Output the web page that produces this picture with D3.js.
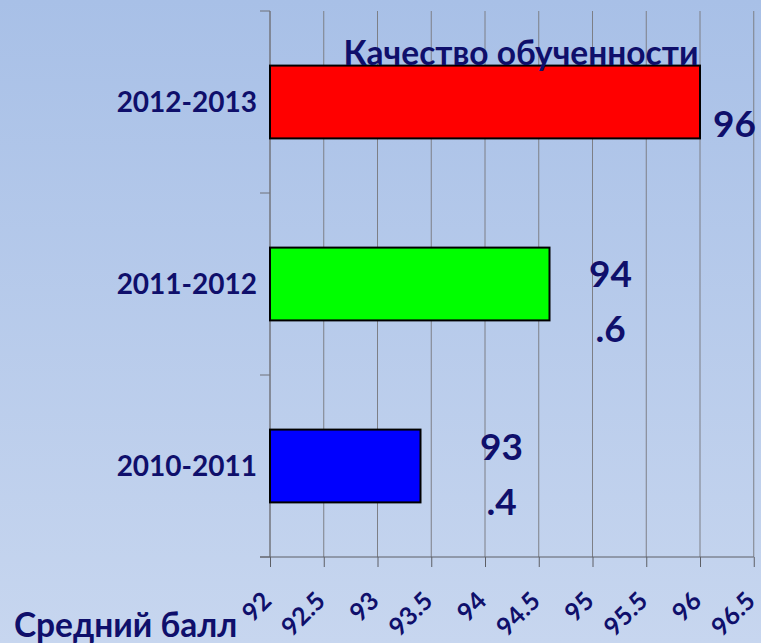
<!DOCTYPE html>
<html>
<head>
<meta charset="utf-8">
<script src="https://cdn.jsdelivr.net/npm/d3@7"></script>
<style>
  html, body { margin: 0; padding: 0; overflow: hidden; }
  svg { display: block; }
  text { font-family: Lato, "Open Sans", "Noto Sans", sans-serif; font-weight: bold; fill: #0f0f6b; }
</style>
</head>
<body>
<div id="chart"></div>
<script>
// data
const categories = ['2010-2011', '2011-2012', '2012-2013'];
const values = [93.4, 94.6, 96];
const barColors = ['#0000ff', '#00ff00', '#ff0000'];
const xTicks = [92, 92.5, 93, 93.5, 94, 94.5, 95, 95.5, 96, 96.5];
const title = 'Качество обученности';
const xTitle = 'Средний балл';

const w = 761, h = 643;
const plot = { left: 270, right: 753.75, top: 11, bottom: 557 };
// label placement relative to bar end / band centre (Excel wraps two of them)
const labelShift = [[81, -6], [61, 3], [13, 35]];

const svg = d3.select('#chart').append('svg')
  .attr('width', w)
  .attr('height', h);

const grad = svg.append('defs').append('linearGradient')
  .attr('id', 'bg')
  .attr('x1', 0).attr('y1', 0)
  .attr('x2', 0).attr('y2', 1);
grad.append('stop').attr('offset', '0%').attr('stop-color', '#a8c0e7');
grad.append('stop').attr('offset', '100%').attr('stop-color', '#c7d6ef');

svg.append('rect')
  .attr('width', w)
  .attr('height', h)
  .attr('fill', 'url(#bg)');

const x = d3.scaleLinear()
  .domain([92, 96.5])
  .range([plot.left, plot.right]);

const y = d3.scaleBand()
  .domain(categories.slice().reverse())
  .range([plot.top, plot.bottom])
  .padding(0);

// gridlines
svg.append('g')
  .selectAll('line')
  .data(xTicks)
  .enter().append('line')
  .attr('x1', function(d) { return x(d); })
  .attr('x2', function(d) { return x(d); })
  .attr('y1', plot.top)
  .attr('y2', plot.bottom)
  .attr('stroke', '#7d7f86')
  .attr('stroke-width', 1);

// y axis: ticks sit on the category boundaries
const yEdges = categories.map(function(c) { return y(c); }).concat([plot.bottom]);
const yAxis = svg.append('g');
yAxis.append('line')
  .attr('x1', plot.left).attr('x2', plot.left)
  .attr('y1', plot.top).attr('y2', plot.bottom)
  .attr('stroke', '#6e7078');
yAxis.selectAll('line.tick')
  .data(yEdges)
  .enter().append('line')
  .attr('class', 'tick')
  .attr('x1', plot.left - 10).attr('x2', plot.left)
  .attr('y1', function(d) { return d; })
  .attr('y2', function(d) { return d; })
  .attr('stroke', '#6e7078');

yAxis.selectAll('text')
  .data(categories)
  .enter().append('text')
  .attr('x', plot.left - 13)
  .attr('y', function(d) { return y(d) + y.bandwidth() / 2 + 10; })
  .attr('text-anchor', 'end')
  .style('font-size', '28px')
  .text(function(d) { return d; });

// x axis
const xAxis = svg.append('g')
  .attr('transform', `translate(0, ${plot.bottom})`)
  .call(d3.axisBottom(x)
    .tickValues(xTicks)
    .tickSize(10)
    .tickSizeOuter(0)
    .tickFormat(d3.format('')));

xAxis.select('.domain').remove();
xAxis.selectAll('.tick line').attr('stroke', '#5d5f66');
xAxis.append('line')
  .attr('x1', plot.left - 10).attr('x2', plot.right)
  .attr('stroke', '#5d5f66');
xAxis.selectAll('.tick text')
  .attr('x', 0).attr('y', 0).attr('dy', null)
  .attr('text-anchor', 'end')
  .attr('dominant-baseline', 'middle')
  .attr('transform', 'translate(-2, 41) rotate(-45)')
  .style('font-size', '25px')
  .style('font-family', 'Lato, "Open Sans", "Noto Sans", sans-serif')
  .style('font-weight', 'bold')
  .attr('fill', '#0f0f6b');

// bars
const barH = y.bandwidth() * 0.4;
svg.append('g')
  .selectAll('rect')
  .data(values)
  .enter().append('rect')
  .attr('x', x(92))
  .attr('y', function(d, i) { return y(categories[i]) + (y.bandwidth() - barH) / 2; })
  .attr('width', function(d) { return x(d) - x(92); })
  .attr('height', barH)
  .attr('fill', function(d, i) { return barColors[i]; })
  .attr('stroke', '#000')
  .attr('stroke-width', 2);

// value labels
const labels = svg.append('g')
  .selectAll('text')
  .data(values)
  .enter().append('text')
  .attr('text-anchor', function(d, i) { return i === 2 ? 'start' : 'middle'; })
  .attr('transform', function(d, i) {
    return `translate(${x(d) + labelShift[i][0]}, ${y(categories[i]) + y.bandwidth() / 2 + labelShift[i][1]})`;
  })
  .style('font-size', '37px');

labels.each(function(d, i) {
  const parts = String(d).split('.');
  const t = d3.select(this);
  if (parts.length === 1) {
    t.text(parts[0]);
  } else {
    t.append('tspan').attr('x', 0).attr('y', 0).text(parts[0]);
    t.append('tspan').attr('x', 0).attr('y', 55).text('.' + parts[1]);
  }
});

// titles
svg.append('text')
  .attr('x', 521)
  .attr('y', 65)
  .attr('text-anchor', 'middle')
  .style('font-size', '33.5px')
  .text(title);

svg.append('text')
  .attr('x', 14)
  .attr('y', 637)
  .style('font-size', '33.5px')
  .text(xTitle);
</script>
</body>
</html>
